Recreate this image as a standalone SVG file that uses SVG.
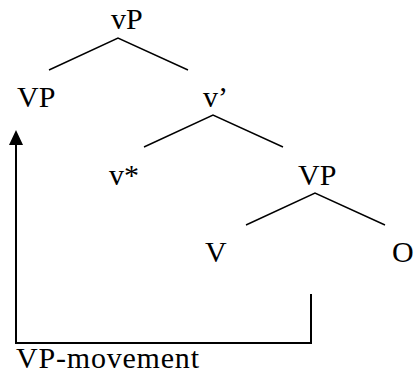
<svg xmlns="http://www.w3.org/2000/svg" width="414" height="373" viewBox="0 0 414 373">
<style>
text{font-family:"Liberation Serif","Times New Roman",serif;font-size:30px;fill:#000}
.e{stroke:#000;stroke-width:1.4;fill:none}
.c{stroke:#000;stroke-width:2;fill:none}
</style>
<rect width="414" height="373" fill="#fff"/>
<g id="n-vP"><text x="111" y="29">vP</text></g>
<g id="n-VP1"><text x="17" y="107">VP</text></g>
<g id="n-vbar"><text x="203" y="107">v’</text></g>
<g id="n-vstar"><text x="109" y="185">v*</text></g>
<g id="n-VP2"><text x="298" y="185">VP</text></g>
<g id="n-V"><text x="205" y="262">V</text></g>
<g id="n-O"><text x="392" y="262">O</text></g>
<g id="connectors">
<path class="e" d="M49,70 L118,38 L188,70"/>
<path class="e" d="M144,147 L213,115 L283,147"/>
<path class="e" d="M246,225 L315,193 L385,225"/>
<path class="c" d="M311,294 V343 H16 V142"/>
<polygon points="16,130 9,145 23,145" fill="#000"/>
</g>
<g id="label"><text x="16" y="368" textLength="183" lengthAdjust="spacing">VP-movement</text></g>
</svg>
